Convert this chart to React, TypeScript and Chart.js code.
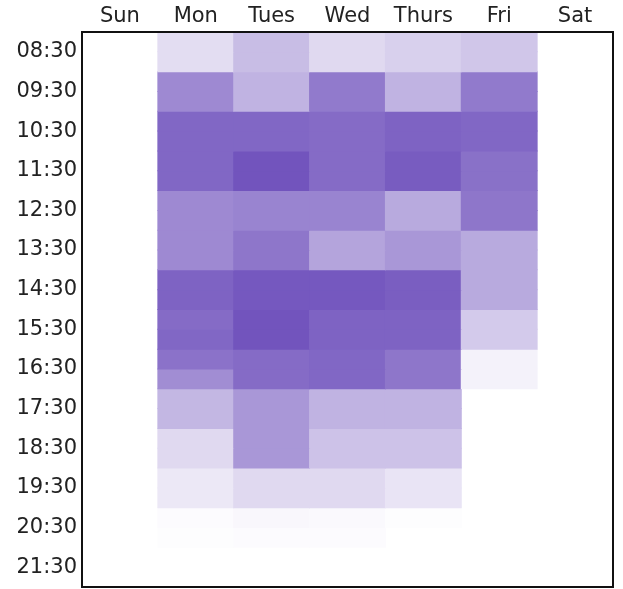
import { useEffect, useRef } from 'react';
import { Chart, registerables } from 'chart.js';

Chart.register(...registerables);

const days = ['Sun', 'Mon', 'Tues', 'Wed', 'Thurs', 'Fri', 'Sat'];
const hourLabels = ['08:30', '09:30', '10:30', '11:30', '12:30', '13:30', '14:30', '15:30', '16:30', '17:30', '18:30', '19:30', '20:30', '21:30'];

// Intensity (0..1) per half-hour slot, two slots per labelled hour row
const sun = [0, 0, 0, 0, 0, 0, 0, 0, 0, 0, 0, 0, 0, 0, 0, 0, 0, 0, 0, 0, 0, 0, 0, 0, 0, 0, 0, 0];
const mon = [0.18, 0.18, 0.62, 0.62, 0.8, 0.8, 0.8, 0.8, 0.62, 0.62, 0.62, 0.62, 0.82, 0.82, 0.78, 0.8, 0.74, 0.6, 0.38, 0.38, 0.2, 0.2, 0.12, 0.12, 0.02, 0.01, 0, 0];
const tues = [0.35, 0.35, 0.4, 0.4, 0.8, 0.8, 0.9, 0.9, 0.65, 0.65, 0.72, 0.72, 0.88, 0.88, 0.9, 0.9, 0.78, 0.78, 0.55, 0.55, 0.55, 0.55, 0.2, 0.2, 0.04, 0.02, 0, 0];
const wed = [0.2, 0.2, 0.7, 0.7, 0.78, 0.78, 0.78, 0.78, 0.65, 0.65, 0.48, 0.48, 0.88, 0.88, 0.82, 0.82, 0.8, 0.8, 0.4, 0.4, 0.32, 0.32, 0.2, 0.2, 0.03, 0.02, 0, 0];
const thurs = [0.25, 0.25, 0.4, 0.4, 0.82, 0.82, 0.86, 0.86, 0.45, 0.45, 0.55, 0.55, 0.85, 0.85, 0.82, 0.82, 0.72, 0.72, 0.4, 0.4, 0.32, 0.32, 0.14, 0.14, 0.01, 0, 0, 0];
const fri = [0.3, 0.3, 0.7, 0.7, 0.8, 0.8, 0.75, 0.75, 0.72, 0.72, 0.45, 0.45, 0.45, 0.45, 0.28, 0.28, 0.07, 0.07, 0, 0, 0, 0, 0, 0, 0, 0, 0, 0];
const sat = [0, 0, 0, 0, 0, 0, 0, 0, 0, 0, 0, 0, 0, 0, 0, 0, 0, 0, 0, 0, 0, 0, 0, 0, 0, 0, 0, 0];

const byDay = [sun, mon, tues, wed, thurs, fri, sat];

const LIGHT = [255, 255, 255];
const DARK = [98, 65, 182];

function colorFor(t: number): string {
  if (t <= 0) return 'rgba(255,255,255,0)';
  const c = LIGHT.map((l, i) => Math.round(l - t * (l - DARK[i])));
  return `rgb(${c[0]},${c[1]},${c[2]})`;
}

const framePlugin = {
  id: 'frame',
  afterDraw(chart: any) {
    const { ctx, chartArea } = chart;
    const { left, top, right, bottom } = chartArea;
    ctx.save();
    ctx.strokeStyle = '#111';
    ctx.lineWidth = 2;
    ctx.strokeRect(left, top, right - left, bottom - top);
    ctx.restore();
  },
};

export default function App() {
  const ref = useRef<HTMLCanvasElement | null>(null);

  useEffect(() => {
    if (!ref.current) return;
    const slots = sun.length;
    const datasets = [] as any[];
    for (let s = 0; s < slots; s++) {
      datasets.push({
        label: 'slot' + s,
        data: days.map(() => [s * 0.5, s * 0.5 + 0.5]),
        backgroundColor: days.map((_, di) => colorFor(byDay[di][s])),
        borderWidth: 0,
        inflateAmount: 0.5,
        barPercentage: 1,
        categoryPercentage: 1,
        grouped: false,
      });
    }
    const font = { family: "'DejaVu Sans', Verdana, sans-serif", size: 21 };
    const chart = new Chart(ref.current, {
      type: 'bar',
      data: { labels: days, datasets },
      options: {
        animation: false,
        responsive: false,
        layout: { padding: { left: 0, right: 10, top: 0, bottom: 2 } },
        plugins: { legend: { display: false }, tooltip: { enabled: false } },
        scales: {
          x: {
            type: 'category',
            position: 'top',
            grid: { display: false, drawTicks: false },
            border: { display: false },
            ticks: { font, color: '#222', padding: 3, maxRotation: 0 },
            afterFit: (axis: any) => {
              axis.height = 32;
              axis.paddingLeft = 0;
              axis.paddingRight = 0;
            },
          },
          y: {
            type: 'linear',
            min: 0,
            max: hourLabels.length,
            reverse: true,
            grid: { display: false, drawTicks: false },
            border: { display: false },
            afterBuildTicks: (axis: any) => {
              axis.ticks = hourLabels.map((_, i) => ({ value: i + 0.5 }));
            },
            ticks: {
              autoSkip: false,
              font,
              color: '#222',
              padding: 5,
              callback: (v: any) => hourLabels[Math.floor(Number(v))],
            },
            afterFit: (axis: any) => {
              axis.width = 82;
              axis.paddingTop = 0;
              axis.paddingBottom = 0;
            },
          },
        },
      },
      plugins: [framePlugin],
    });
    return () => chart.destroy();
  }, []);

  return (
    <div style={{ position: 'fixed', left: 0, top: 0, width: 623, height: 589, background: '#fff' }}>
      <canvas ref={ref} width={623} height={589} />
    </div>
  );
}
